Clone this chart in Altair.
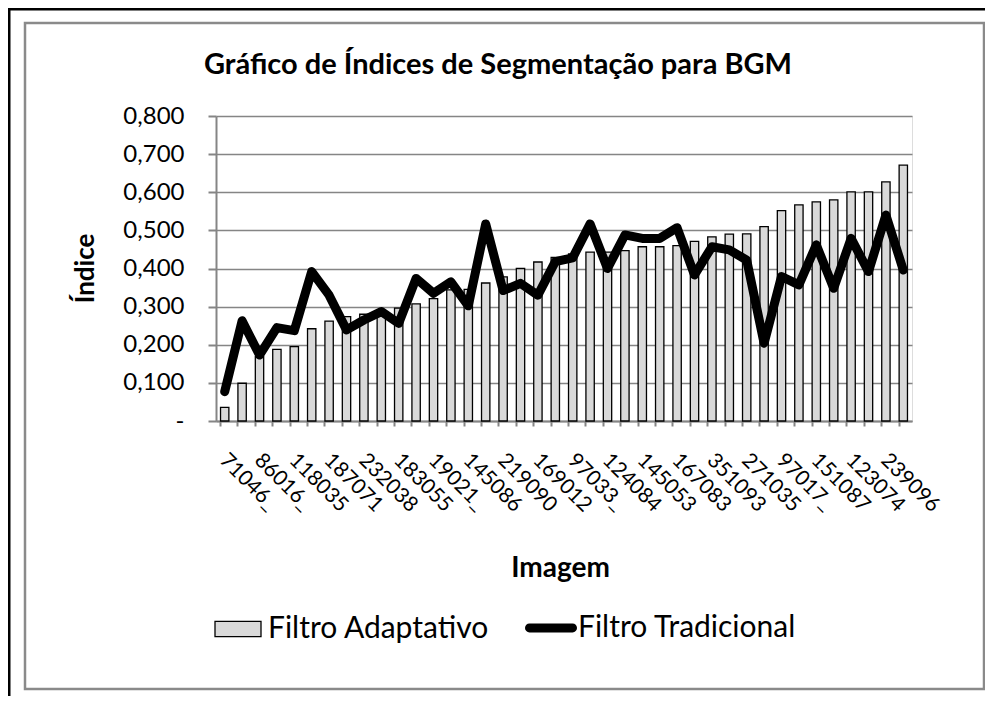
import altair as alt
import pandas as pd

chart_title = "Gráfico de Índices de Segmentação para BGM"

labels = ["71046_", "86016_", "118035", "187071", "232038", "183055", "19021_",
          "145086", "219090", "169012", "97033_", "124084", "145053", "167083",
          "351093", "271035", "97017_", "151087", "123074", "239096"]

adaptativo = [0.036, 0.099, 0.169, 0.188, 0.195, 0.242, 0.262, 0.274, 0.280, 0.285,
              0.296, 0.307, 0.321, 0.344, 0.345, 0.362, 0.378, 0.400, 0.417, 0.429,
              0.438, 0.443, 0.443, 0.447, 0.457, 0.457, 0.460, 0.471, 0.483, 0.490,
              0.491, 0.510, 0.552, 0.567, 0.575, 0.580, 0.601, 0.601, 0.627, 0.671]

tradicional = [0.077, 0.263, 0.173, 0.245, 0.237, 0.392, 0.330, 0.239, 0.265, 0.287,
               0.256, 0.374, 0.335, 0.365, 0.302, 0.517, 0.342, 0.361, 0.330, 0.418,
               0.428, 0.517, 0.400, 0.488, 0.479, 0.479, 0.507, 0.383, 0.457, 0.449,
               0.422, 0.204, 0.379, 0.357, 0.462, 0.348, 0.479, 0.392, 0.540, 0.396]

y_ticks = [0, 0.1, 0.2, 0.3, 0.4, 0.5, 0.6, 0.7, 0.8]
series = ["Filtro Adaptativo", "Filtro Tradicional"]

df = pd.DataFrame({
    "idx": list(range(len(adaptativo))),
    "Adaptativo": adaptativo,
    "Tradicional": tradicional,
    "s1": series[0],
    "s2": series[1],
})

FONT = "Lato"
GRAY = "#858585"

label_js = "[" + ",".join("'" + s + "'" for s in labels) + "]"
x_label_expr = f"datum.value % 2 == 0 ? {label_js}[datum.value / 2] : ''"


def x_axis():
    return alt.Axis(
        title="Imagem",
        titleFont=FONT, titleFontSize=28, titleFontWeight="bold", titleColor="black",
        titleX=344, titleY=155, titleBaseline="alphabetic", titleAnchor="middle",
        labelExpr=x_label_expr,
        labelAngle=45, labelAlign="left", labelBaseline="top",
        labelFont=FONT, labelFontSize=21, labelColor="black",
        labelPadding=23, labelOffset=6, labelOverlap=False, labelLimit=300,
        bandPosition=0,
        domainColor=GRAY, domainWidth=2,
        tickColor=GRAY, tickWidth=2, tickSize=5,
        grid=False,
    )


def y_axis():
    return alt.Axis(
        title="Índice",
        titleFont=FONT, titleFontSize=26, titleFontWeight="bold", titleColor="black",
        titleX=-123, titleY=152, titleBaseline="alphabetic", titleAngle=-90,
        values=y_ticks,
        labelExpr="datum.value == 0 ? '-\u00a0\u00a0' : replace(format(datum.value, '.3f'), '.', ',')",
        labelFont=FONT, labelFontSize=24, labelColor="black",
        labelPadding=24, labelOverlap=False,
        domainColor=GRAY, domainWidth=2,
        tickColor=GRAY, tickWidth=2, tickSize=8,
        grid=True, gridColor=GRAY, gridWidth=1.6,
    )


x_scale = alt.Scale(paddingInner=0.52, paddingOuter=0.26)
y_scale = alt.Scale(domain=[0, 0.8], nice=False)

bars = alt.Chart(df).mark_bar(stroke="black", strokeWidth=1.3).encode(
    x=alt.X("idx:O", scale=x_scale, axis=x_axis()),
    y=alt.Y("Adaptativo:Q", scale=y_scale, axis=y_axis()),
    fill=alt.Fill(
        "s1:N",
        scale=alt.Scale(domain=[series[0]], range=["#d9d9d9"]),
        legend=alt.Legend(
            title=None, orient="none", legendX=-2, legendY=489,
            symbolType="M-1,-0.33H1V0.33H-1Z", symbolSize=2116,
            symbolStrokeColor="black", symbolStrokeWidth=1.3,
            labelFont=FONT, labelFontSize=30, labelColor="black",
            labelOffset=6, labelLimit=400, padding=0,
        ),
    ),
)

line = alt.Chart(df).mark_line(
    strokeWidth=9, strokeJoin="round", strokeCap="round"
).encode(
    x=alt.X("idx:O", scale=x_scale, axis=x_axis()),
    y=alt.Y("Tradicional:Q", scale=y_scale, axis=y_axis()),
    stroke=alt.Stroke(
        "s2:N",
        scale=alt.Scale(domain=[series[1]], range=["black"]),
        legend=alt.Legend(
            title=None, orient="none", legendX=309, legendY=486,
            symbolType="M-0.83,-0.17H0.83A0.17,0.17 0 0 1 0.83,0.17H-0.83A0.17,0.17 0 0 1 -0.83,-0.17Z",
            symbolSize=2704, symbolFillColor="black", symbolStrokeWidth=0,
            labelFont=FONT, labelFontSize=30, labelColor="black",
            labelOffset=1, labelLimit=400, padding=0,
        ),
    ),
)

one = alt.Data(values=[{"title": chart_title}])
frame = alt.Chart(one).mark_rect(fill="transparent", stroke="#8a8a8a", strokeWidth=2.5).encode(
    x=alt.value(-191), x2=alt.value(768), y=alt.value(-93), y2=alt.value(573)
)
border_left = alt.Chart(one).mark_rule(color="black", strokeWidth=3).encode(
    x=alt.value(-207), y=alt.value(-108), y2=alt.value(580)
)
border_top = alt.Chart(one).mark_rule(color="black", strokeWidth=3).encode(
    x=alt.value(-208), x2=alt.value(769), y=alt.value(-107)
)
title = alt.Chart(one).mark_text(
    font=FONT, fontSize=29, fontWeight="bold", color="black",
    align="center", baseline="alphabetic"
).encode(
    text="title:N", x=alt.value(282), y=alt.value(-42)
)

chart = alt.layer(frame, border_left, border_top, title, bars, line).properties(
    width=696,
    height=305,
    autosize=alt.AutoSizeParams(type="none"),
    padding={"left": 208, "top": 108, "right": 73, "bottom": 275},
).configure_view(stroke=None).configure(background="white")

chart.save("out.html", embed_options={"renderer": "svg", "actions": False})
